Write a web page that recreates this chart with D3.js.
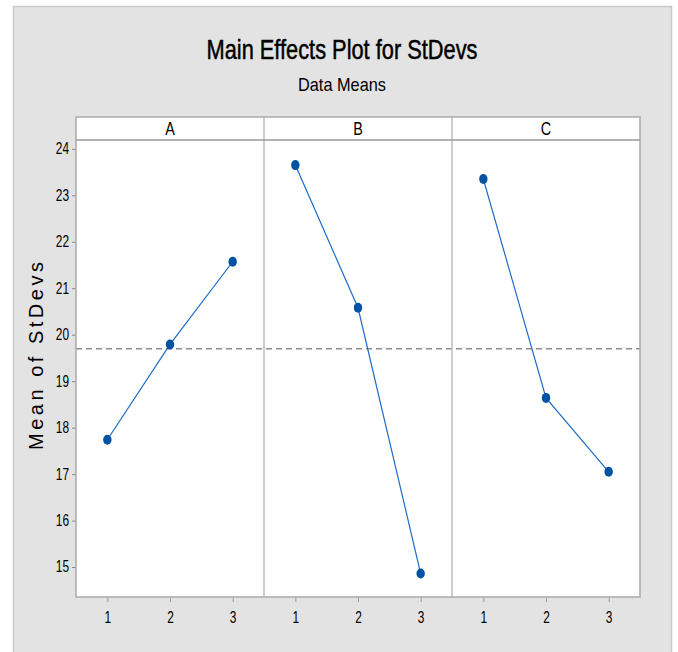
<!DOCTYPE html>
<html>
<head>
<meta charset="utf-8">
<script src="https://cdn.jsdelivr.net/npm/d3@7"></script>
<style>
  html, body { margin: 0; padding: 0; background: #ffffff; }
  svg { display: block; }
  text { font-family: "Liberation Sans", Arial, sans-serif; fill: #000; }
</style>
</head>
<body>
<svg id="chart" width="678" height="652"></svg>
<script>
// ---- data ----
const factors = ["A", "B", "C"];
const levels = [1, 2, 3];
const meansA = [17.74, 19.79, 21.57];
const meansB = [23.65, 20.58, 14.86];
const meansC = [23.35, 18.64, 17.05];
const grandMean = 19.70;
const yTicks = [15, 16, 17, 18, 19, 20, 21, 22, 23, 24];
const titleText = "Main Effects Plot for StDevs";
const subtitleText = "Data Means";
const yLabelText = "Mean of StDevs";

const seriesValues = [meansA, meansB, meansC];

// condense text horizontally (narrow-font look)
function narrow(sel, factor) {
  sel.each(function () {
    const w = this.getComputedTextLength();
    d3.select(this).attr("textLength", w * factor).attr("lengthAdjust", "spacingAndGlyphs");
  });
}

// ---- layout ----
const svg = d3.select("#chart");
const plotL = 76, plotR = 640, plotT = 140, plotB = 597, stripT = 117;

svg.append("rect").attr("x", 13.5).attr("y", 6.5).attr("width", 658).attr("height", 660)
  .attr("fill", "#e3e3e3").attr("stroke", "#c9c9c9").attr("stroke-width", 1.5);

svg.append("text").attr("x", 342).attr("y", 59).attr("text-anchor", "middle")
  .style("font-size", "28px").style("stroke", "#000").style("stroke-width", "0.5px")
  .text(titleText).attr("textLength", 271).attr("lengthAdjust", "spacingAndGlyphs");
svg.append("text").attr("x", 342).attr("y", 91).attr("text-anchor", "middle")
  .style("font-size", "19px").text(subtitleText)
  .attr("textLength", 88).attr("lengthAdjust", "spacingAndGlyphs");

const y = d3.scaleLinear().domain([14.355, 24.19]).range([plotB, plotT]);
const panel = d3.scaleBand().domain(factors).range([plotL, plotR]).padding(0);

// panel backgrounds
svg.append("rect").attr("x", plotL).attr("y", stripT).attr("width", plotR - plotL).attr("height", plotB - stripT)
  .attr("fill", "#ffffff");

// y axis
const yAxis = d3.axisLeft(y).tickValues(yTicks).tickSize(4).tickPadding(3).tickFormat(d3.format("d"));
const gy = svg.append("g").attr("transform", `translate(${plotL},0)`).call(yAxis);
gy.select(".domain").remove();
gy.selectAll(".tick line").attr("stroke", "#888");
gy.selectAll(".tick text").style("font-size", "16.5px").style("font-family", '"Liberation Sans", Arial, sans-serif')
  .attr("fill", "#111").attr("dy", "0.3em");
narrow(gy.selectAll(".tick text"), 0.72);

// y label
svg.append("text").attr("transform", `translate(43,356) rotate(-90)`).attr("text-anchor", "middle")
  .style("font-size", "20px").text(yLabelText)
  .attr("textLength", 188).attr("lengthAdjust", "spacing");

// reference line
svg.append("line").attr("x1", plotL).attr("x2", plotR).attr("y1", y(grandMean)).attr("y2", y(grandMean))
  .attr("stroke", "#8a8a8a").attr("stroke-width", 1.5).attr("stroke-dasharray", "6,4");

factors.forEach((f, i) => {
  const x0 = panel(f), bw = panel.bandwidth();
  const x = d3.scalePoint().domain(levels).range([x0, x0 + bw]).padding(0.5);
  // x axis
  const xAxis = d3.axisBottom(x).tickSize(5).tickPadding(9);
  const gx = svg.append("g").attr("transform", `translate(0,${plotB})`).call(xAxis);
  gx.select(".domain").remove();
  gx.selectAll(".tick line").attr("stroke", "#999");
  gx.selectAll(".tick text").style("font-size", "16.5px").style("font-family", '"Liberation Sans", Arial, sans-serif')
    .attr("fill", "#111");
  narrow(gx.selectAll(".tick text"), 0.72);

  // strip label
  const st = svg.append("text").attr("x", x0 + bw / 2).attr("y", 135).attr("text-anchor", "middle")
    .style("font-size", "18px").text(f);
  narrow(st, 0.8);

  const data = levels.map((l, j) => ({ l, v: seriesValues[i][j] }));
  const line = d3.line().x(d => x(d.l)).y(d => y(d.v));
  svg.append("path").datum(data).attr("d", line).attr("fill", "none")
    .attr("stroke", "#1d6cc4").attr("stroke-width", 1.2);
  svg.selectAll(null).data(data).enter().append("ellipse")
    .attr("cx", d => x(d.l)).attr("cy", d => y(d.v)).attr("rx", 4.2).attr("ry", 5)
    .attr("fill", "#0052a5");

  if (i > 0) {
    svg.append("line").attr("x1", x0).attr("x2", x0).attr("y1", stripT).attr("y2", plotB)
      .attr("stroke", "#bdbdbd").attr("stroke-width", 1.5);
  }
});

// frames
svg.append("rect").attr("x", plotL).attr("y", stripT).attr("width", plotR - plotL).attr("height", plotB - stripT)
  .attr("fill", "none").attr("stroke", "#aaaaaa").attr("stroke-width", 1.5);
svg.append("line").attr("x1", plotL).attr("x2", plotR).attr("y1", plotT).attr("y2", plotT)
  .attr("stroke", "#9a9a9a").attr("stroke-width", 1.5);
</script>
</body>
</html>
